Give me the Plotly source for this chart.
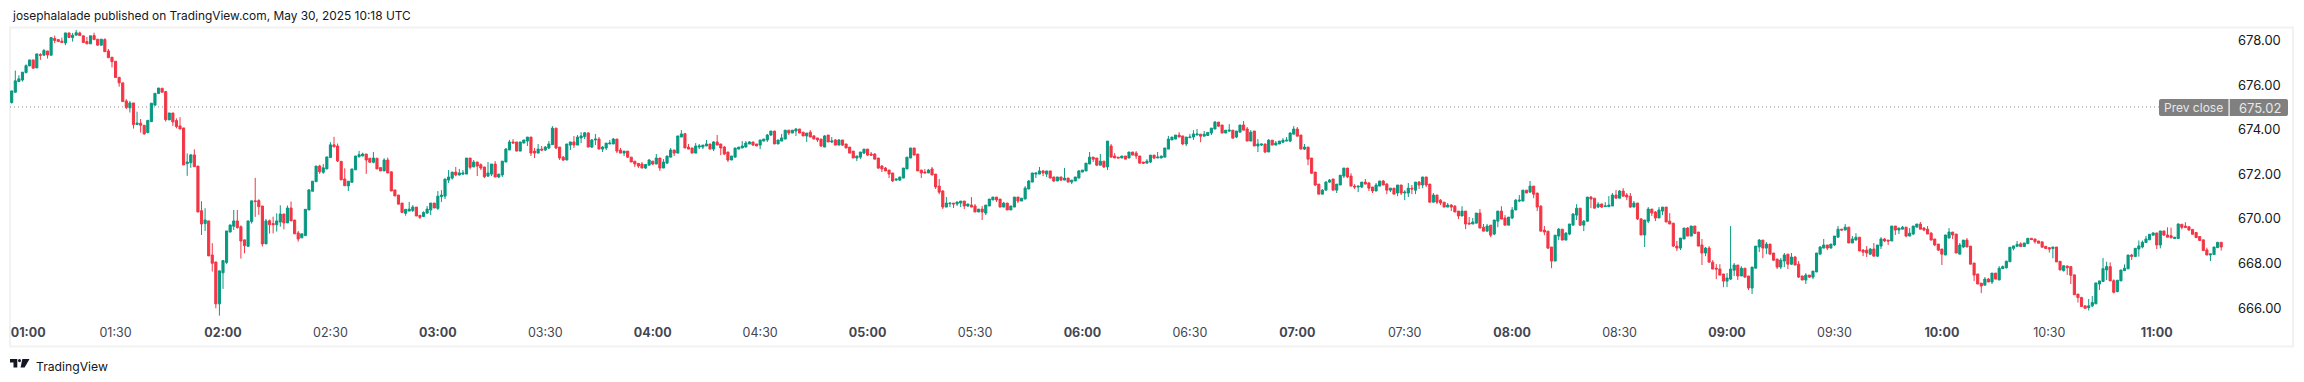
import plotly.graph_objects as go

# One-minute bars, 01:00 to 11:18
opens = [
675.01,675.22,675.68,676.16,676.23,676.56,676.86,677.13,676.77,677.37,
677.34,677.53,677.34,678.09,678.04,677.97,677.89,678.34,678.13,678.24,
678.34,678.21,677.95,677.85,678.22,678.06,677.79,678.04,677.53,677.25,
677.07,676.35,676.10,675.29,674.98,675.20,674.23,674.29,674.20,673.87,
674.36,675.10,675.62,675.86,675.71,674.44,674.75,674.41,674.17,674.08,
672.48,672.52,672.87,672.37,670.37,669.79,669.91,668.38,668.07,666.19,
667.58,668.05,669.41,669.67,669.91,669.65,669.06,668.77,669.88,670.81,
670.82,670.58,668.88,669.92,669.79,669.74,669.86,670.22,669.82,670.49,
669.95,669.37,669.15,669.25,670.40,671.24,671.67,672.37,672.09,672.24,
672.75,673.32,673.27,672.58,671.79,671.48,671.64,672.20,672.79,672.82,
672.91,672.72,672.54,672.72,672.30,672.15,672.64,672.11,671.30,671.07,
670.71,670.25,670.35,670.38,670.53,670.16,670.11,670.26,670.40,670.71,
670.47,671.00,671.02,671.74,671.83,672.10,671.97,672.01,672.01,672.73,
672.33,672.55,672.43,672.33,671.92,672.01,672.46,671.88,671.97,672.55,
673.09,673.45,673.45,673.04,673.40,673.49,673.67,673.04,672.95,673.13,
673.09,673.18,673.33,674.07,673.22,672.77,672.64,673.31,673.45,673.31,
673.63,673.69,673.85,673.22,673.54,673.58,673.13,673.18,673.36,673.36,
673.58,673.09,672.95,673.04,672.77,672.59,672.49,672.46,672.28,672.41,
672.59,672.46,672.73,672.28,672.50,672.77,673.09,672.95,673.67,673.82,
673.22,673.18,672.95,673.22,673.22,673.27,673.36,673.13,673.45,673.36,
673.22,673.00,672.64,672.77,673.13,673.18,673.22,673.36,673.45,673.36,
673.31,673.49,673.54,673.76,673.94,673.36,673.49,673.58,673.98,673.85,
673.94,674.03,673.89,673.72,673.89,673.72,673.63,673.58,673.22,673.76,
673.45,673.54,673.31,673.54,673.36,673.22,673.04,672.73,672.77,672.95,
673.13,672.91,672.91,672.73,672.37,672.28,672.19,672.06,671.74,671.74,
671.83,672.24,672.73,673.18,672.91,672.19,672.10,672.06,672.24,672.01,
671.47,671.25,670.53,670.68,670.71,670.67,670.71,670.80,670.58,670.62,
670.58,670.31,670.44,670.26,670.58,670.85,670.98,670.89,670.53,670.71,
670.40,670.53,670.98,670.80,670.89,671.34,671.65,672.01,672.01,672.15,
672.01,672.15,671.88,671.70,671.88,671.74,671.83,671.65,671.70,671.83,
672.10,672.15,672.46,672.77,672.73,672.41,672.59,672.33,673.27,672.82,
672.77,672.73,672.82,672.73,673.00,672.95,672.82,672.55,672.50,672.55,
672.86,672.73,672.73,672.77,673.13,673.54,673.58,673.76,673.72,673.36,
673.64,673.67,673.76,673.80,673.71,673.74,673.85,674.03,674.34,674.21,
673.85,673.94,673.98,673.67,673.89,674.21,674.03,673.49,673.94,673.27,
673.31,673.36,673.00,673.53,673.31,673.36,673.44,673.49,673.49,673.80,
674.03,673.76,673.13,673.22,672.73,672.10,671.56,671.11,671.29,671.65,
671.79,671.29,671.52,671.92,672.28,671.92,671.47,671.43,671.43,671.65,
671.61,671.43,671.25,671.47,671.70,671.56,671.29,671.38,671.16,671.52,
671.16,671.16,671.38,671.29,671.65,671.52,671.88,671.56,670.75,671.07,
670.84,670.75,670.53,670.62,670.57,670.35,670.13,670.35,669.81,669.77,
669.81,670.26,669.63,669.45,669.72,669.32,669.90,670.35,670.04,669.72,
670.04,670.40,670.80,670.80,671.29,671.20,671.47,671.16,670.57,669.50,
669.45,668.74,668.11,669.23,669.54,669.05,669.32,669.72,670.17,670.48,
669.72,669.90,670.98,670.93,670.53,670.67,670.55,670.55,670.58,671.07,
670.93,671.25,671.07,671.02,670.53,670.71,670.00,669.28,669.90,670.44,
670.31,670.04,670.35,670.53,669.90,669.81,668.78,668.69,669.10,669.59,
669.23,669.68,669.41,668.83,668.47,668.69,668.06,667.79,667.75,667.53,
667.21,667.30,667.70,667.93,667.44,667.79,667.44,666.90,667.79,668.74,
669.05,668.69,668.87,668.47,668.20,667.84,668.11,668.42,667.97,668.29,
667.97,667.44,667.26,667.48,667.39,667.62,668.42,668.69,668.83,668.69,
668.83,669.18,669.54,669.50,669.63,668.92,669.05,669.18,668.60,668.60,
668.42,668.65,668.33,668.78,669.10,669.05,669.01,669.68,669.50,669.54,
669.63,669.23,669.32,669.63,669.77,669.59,669.54,669.36,669.10,668.87,
668.65,668.38,669.14,669.41,669.32,668.42,668.74,669.05,668.78,668.02,
667.53,667.12,667.03,667.30,667.17,667.57,667.26,667.77,667.81,668.08,
668.68,668.77,668.88,668.76,668.89,669.13,669.10,669.01,668.97,668.77,
668.71,668.67,668.74,668.10,667.68,667.89,667.86,667.49,666.63,666.48,
666.10,666.02,666.10,666.19,667.08,667.19,667.71,667.86,667.23,666.74,
667.22,667.68,667.76,668.38,668.31,668.65,668.74,668.94,669.06,669.27,
669.37,668.83,669.46,669.28,669.25,669.12,669.12,669.76,669.68,669.65,
669.53,669.39,669.21,669.06,668.61,668.38,668.40,668.71,668.95]
highs = [
675.23,675.74,676.65,676.44,676.58,676.93,677.13,677.13,677.40,677.43,
677.62,677.53,678.13,678.22,678.04,678.13,678.34,678.34,678.34,678.47,
678.40,678.21,678.16,678.21,678.35,678.06,678.06,678.10,677.62,677.25,
677.07,676.35,676.10,675.37,675.29,675.20,674.81,674.48,674.20,674.42,
675.19,675.63,675.87,675.86,675.71,674.75,674.75,674.51,674.56,674.08,
672.94,672.91,673.12,672.37,670.79,670.48,669.91,668.91,668.07,667.67,
668.13,669.46,669.73,670.40,670.40,669.71,669.06,669.91,670.81,671.84,
670.88,670.58,670.00,669.97,670.10,670.25,670.61,670.22,670.60,670.78,
669.95,669.46,669.33,670.43,671.34,671.69,672.37,672.43,672.46,672.78,
673.44,673.68,673.38,672.58,672.27,671.69,672.24,672.82,673.05,672.97,
672.91,672.72,673.00,672.72,672.30,672.72,672.75,672.11,671.30,671.07,
670.71,670.43,670.76,670.62,670.53,670.16,670.34,670.58,670.71,670.71,
671.25,671.29,671.79,672.19,672.10,672.33,672.24,672.19,672.73,672.73,
672.64,672.55,672.49,672.33,672.55,672.46,672.59,672.01,672.59,673.18,
673.54,673.58,673.45,673.45,673.54,673.67,673.67,673.18,673.36,673.27,
673.27,673.49,674.16,674.07,673.22,672.82,673.36,673.45,673.72,673.76,
673.89,673.89,673.89,673.58,673.81,673.67,673.27,673.40,673.54,673.63,
673.58,673.18,673.04,673.04,672.77,672.59,672.49,672.55,672.44,672.68,
672.59,672.91,672.73,672.68,672.82,673.18,673.09,673.72,673.98,673.86,
673.36,673.18,673.40,673.36,673.31,673.54,673.36,673.49,673.76,673.36,
673.27,673.00,672.82,673.18,673.22,673.49,673.49,673.49,673.45,673.36,
673.54,673.58,673.81,673.76,673.94,673.54,673.81,673.98,673.98,673.98,
674.07,674.03,673.89,673.85,673.98,673.76,673.63,673.58,673.76,673.76,
673.67,673.58,673.58,673.54,673.36,673.22,673.04,672.82,673.00,673.13,
673.13,673.00,672.95,672.73,672.41,672.33,672.19,672.06,671.79,671.88,
672.28,672.77,673.18,673.18,672.91,672.19,672.24,672.24,672.33,672.01,
671.79,671.29,670.98,670.71,670.71,670.76,670.80,670.80,670.67,670.98,
670.67,670.44,670.58,670.62,670.89,670.98,670.98,670.89,670.76,670.71,
670.58,670.98,670.98,670.93,671.47,671.74,672.06,672.06,672.33,672.19,
672.15,672.15,671.88,671.88,671.88,672.28,671.83,671.74,671.88,672.19,
672.19,672.50,673.00,672.77,672.73,672.91,672.59,673.49,673.36,672.95,
672.77,672.82,672.82,673.00,673.00,673.04,672.82,672.55,672.68,672.86,
672.86,673.00,672.82,673.18,673.72,673.67,673.76,673.89,673.72,673.67,
673.81,673.98,674.03,673.80,673.94,673.88,674.07,674.39,674.34,674.21,
673.98,674.25,673.98,673.94,674.21,674.39,674.12,673.98,673.94,673.58,
673.36,673.36,673.58,673.53,673.49,673.49,673.62,673.67,673.89,674.16,
674.12,673.76,673.36,673.22,672.73,672.10,671.56,671.34,671.70,671.79,
671.79,671.56,671.96,672.28,672.28,672.05,671.56,671.47,671.65,671.79,
671.65,671.43,671.61,671.70,671.74,671.61,671.38,671.38,671.52,671.52,
671.29,671.61,671.52,671.65,671.70,671.88,671.88,671.56,671.16,671.07,
670.89,670.75,670.71,670.66,670.62,670.35,670.57,670.35,670.08,670.04,
670.26,670.44,669.77,669.77,669.72,669.95,670.35,670.57,670.17,670.08,
670.53,670.89,671.07,671.29,671.29,671.70,671.47,671.16,670.62,669.68,
669.45,668.74,669.27,669.59,669.54,669.41,669.77,670.26,670.66,670.48,
669.95,670.98,671.02,670.93,670.75,670.67,670.75,671.02,671.16,671.29,
671.29,671.38,671.16,671.16,670.80,670.71,670.04,669.95,670.53,670.44,
670.35,670.53,670.53,670.53,670.26,669.81,669.01,669.14,669.59,669.63,
669.68,669.68,669.41,669.10,668.74,668.78,668.15,667.97,667.97,667.53,
667.57,669.68,668.02,667.93,667.88,667.79,667.44,667.84,668.78,669.10,
669.05,668.96,668.87,668.47,668.20,668.24,668.47,668.42,668.47,668.33,
668.11,667.44,667.57,667.48,667.66,668.47,668.78,669.10,668.83,668.87,
669.23,669.68,669.54,669.77,669.63,669.23,669.36,669.18,668.65,668.78,
668.69,668.92,668.83,669.18,669.14,669.05,669.68,669.68,669.59,669.68,
669.63,669.59,669.68,669.77,669.86,669.63,669.68,669.41,669.10,668.87,
668.65,669.28,669.59,669.41,669.32,668.92,669.05,669.14,668.78,668.02,
667.53,667.12,667.39,667.35,667.57,667.57,667.88,667.91,668.13,668.73,
668.79,669.01,668.95,668.92,669.13,669.13,669.10,669.01,668.97,668.77,
668.71,668.67,668.74,668.10,667.90,667.89,667.86,667.49,666.63,666.48,
666.10,666.41,666.54,667.13,667.22,668.25,668.08,668.05,667.29,667.25,
667.71,667.96,668.38,668.43,668.68,669.03,669.03,669.24,669.31,669.40,
669.37,669.46,669.46,669.62,669.61,669.18,669.80,669.76,669.85,669.65,
669.53,669.39,669.21,669.06,668.71,668.43,668.74,668.95,668.95]
lows = [
675.01,675.17,675.68,676.13,676.16,676.53,676.86,676.73,676.77,677.13,
677.34,677.19,677.34,677.88,677.95,677.91,677.79,678.13,677.95,678.24,
678.22,677.91,677.85,677.85,678.04,677.79,677.79,677.50,677.23,676.79,
676.34,675.93,675.26,674.93,674.77,674.05,674.23,673.87,673.78,673.84,
674.36,675.10,675.62,675.68,674.36,674.44,674.17,674.06,674.03,672.42,
671.93,672.29,672.34,670.31,669.28,669.46,668.34,667.64,665.99,665.66,
666.86,667.98,669.41,669.50,669.56,668.22,668.46,668.77,669.79,670.09,
670.18,668.76,668.88,669.34,669.35,669.43,669.65,669.53,669.82,669.91,
669.33,668.98,669.15,669.25,670.40,671.24,671.67,672.02,672.02,672.24,
672.75,673.23,672.55,671.75,671.49,671.25,671.64,672.20,672.75,672.82,
672.02,672.54,672.49,672.24,672.15,672.15,672.06,671.25,671.03,670.66,
670.26,670.14,670.35,670.31,670.13,669.99,670.08,670.23,670.17,670.49,
670.40,670.76,670.89,671.61,671.76,671.91,671.95,671.97,672.01,672.22,
672.33,671.92,672.19,671.83,671.88,671.92,671.88,671.83,671.88,672.55,
673.09,673.40,673.04,673.04,673.40,673.27,672.82,672.73,672.95,673.04,
673.04,673.13,673.33,673.13,672.64,672.59,672.64,673.09,673.18,673.31,
673.40,673.58,673.22,673.18,673.31,673.13,673.00,673.09,673.36,673.36,
672.95,672.95,672.82,672.73,672.55,672.33,672.28,672.28,672.24,672.41,
672.41,672.46,672.15,672.28,672.50,672.77,672.82,672.95,673.67,673.18,
673.13,672.95,672.95,673.13,673.13,673.27,673.13,673.04,673.31,672.86,
672.86,672.55,672.64,672.77,673.13,673.18,673.22,673.36,673.27,673.27,
673.13,673.49,673.45,673.72,673.36,673.36,673.49,673.58,673.76,673.85,
673.72,673.85,673.72,673.45,673.67,673.58,673.45,673.22,673.22,673.45,
673.40,673.31,673.31,673.27,673.18,672.95,672.73,672.59,672.68,672.91,
672.82,672.82,672.68,672.24,672.10,672.15,671.83,671.65,671.70,671.70,
671.83,672.24,672.73,672.86,672.15,671.83,672.06,672.06,671.97,671.34,
671.11,670.44,670.53,670.53,670.49,670.58,670.53,670.44,670.53,670.53,
670.31,670.31,669.95,670.17,670.58,670.85,670.76,670.53,670.53,670.40,
670.40,670.53,670.71,670.80,670.89,671.34,671.65,671.83,672.01,671.92,
671.88,671.83,671.65,671.70,671.70,671.74,671.65,671.56,671.70,671.83,
672.10,672.15,672.46,672.55,672.37,672.41,672.28,672.19,672.77,672.73,
672.73,672.73,672.68,672.73,672.86,672.68,672.50,672.46,672.50,672.50,
672.68,672.73,672.73,672.77,673.13,673.54,673.58,673.67,673.31,673.27,
673.64,673.54,673.76,673.44,673.71,673.74,673.76,674.03,674.12,673.85,
673.85,673.89,673.62,673.62,673.89,673.98,673.49,673.49,673.27,673.00,
673.27,672.95,673.00,673.31,673.31,673.36,673.40,673.49,673.44,673.80,
673.71,673.13,673.09,672.41,672.01,671.47,671.11,671.11,671.29,671.61,
671.29,671.16,671.52,671.83,671.83,671.47,671.34,671.20,671.38,671.56,
671.25,671.16,671.25,671.47,671.52,671.11,671.20,671.11,671.02,671.07,
670.84,670.98,671.11,671.11,671.34,671.38,671.43,670.75,670.75,670.66,
670.62,670.53,670.53,670.35,670.31,669.99,670.13,669.54,669.77,669.77,
669.81,669.59,669.45,669.45,669.18,669.27,669.63,669.99,669.72,669.72,
669.99,670.40,670.75,670.80,671.16,671.20,670.93,670.35,669.45,669.27,
668.65,667.79,668.11,669.05,669.05,669.05,669.27,669.72,669.95,669.68,
669.45,669.86,670.48,670.48,670.48,670.49,670.55,670.55,670.58,670.93,
670.93,671.02,670.84,670.49,670.53,669.95,669.28,668.74,669.81,670.13,
669.90,670.04,670.17,669.86,669.77,668.74,668.56,668.60,669.10,669.23,
669.23,669.32,668.78,667.93,668.33,668.06,667.75,667.30,667.48,666.94,
666.94,667.26,667.44,667.26,667.44,667.35,666.81,666.63,667.79,668.51,
668.24,668.42,668.42,668.11,667.75,667.75,667.84,667.75,667.93,667.93,
667.35,667.26,667.08,667.35,667.30,667.62,668.42,668.69,668.60,668.69,
668.78,669.18,669.50,669.50,668.92,668.92,669.05,668.56,668.33,668.29,
668.38,668.33,668.29,668.65,668.96,668.83,669.01,669.28,669.32,669.54,
669.18,669.23,669.28,669.63,669.54,669.45,669.32,669.05,668.78,668.56,
667.93,668.38,669.14,669.10,668.47,668.42,668.69,668.74,667.97,667.21,
667.08,666.67,667.03,667.17,667.08,667.30,667.26,667.77,667.77,668.08,
668.59,668.77,668.76,668.76,668.89,669.07,668.89,668.91,668.73,668.67,
668.49,668.23,668.07,667.71,667.64,667.49,667.08,666.60,666.25,666.07,
665.99,665.89,666.05,666.19,666.81,667.19,667.26,667.22,666.66,666.71,
667.22,667.68,667.76,668.16,668.31,668.31,668.68,668.94,669.06,669.27,
668.65,668.68,669.27,669.18,669.12,669.12,669.12,669.53,669.61,669.47,
669.31,669.16,669.03,668.58,668.38,668.11,668.40,668.71,668.58]
closes = [
675.23,675.74,676.19,676.28,676.58,676.87,677.13,676.76,677.40,677.34,
677.55,677.35,678.13,678.00,677.95,677.91,678.34,678.13,678.24,678.35,
678.22,677.91,677.85,678.21,678.04,677.79,678.06,677.50,677.23,677.05,
676.34,676.10,675.26,674.99,675.20,674.23,674.30,674.20,673.81,674.42,
675.19,675.63,675.87,675.68,674.45,674.75,674.35,674.14,674.03,672.42,
672.55,672.87,672.34,670.31,669.77,669.95,668.34,668.01,666.19,667.67,
668.13,669.46,669.73,669.91,669.61,669.01,668.80,669.91,670.81,670.78,
670.55,668.88,669.91,669.74,669.74,669.91,670.22,669.82,670.49,669.91,
669.33,669.10,669.33,670.43,671.30,671.69,672.37,672.11,672.29,672.78,
673.32,673.23,672.60,671.75,671.49,671.69,672.24,672.82,672.88,672.91,
672.64,672.54,672.73,672.24,672.15,672.64,672.06,671.25,671.03,670.66,
670.29,670.43,670.44,670.53,670.13,670.07,670.29,670.44,670.71,670.49,
671.02,671.07,671.79,671.88,672.10,671.97,672.06,672.06,672.73,672.31,
672.55,672.37,672.28,671.89,672.06,672.46,671.88,672.01,672.59,673.13,
673.45,673.40,673.04,673.45,673.54,673.67,672.95,672.95,673.13,673.09,
673.22,673.36,674.07,673.18,672.73,672.64,673.36,673.45,673.31,673.67,
673.72,673.86,673.22,673.54,673.58,673.13,673.22,673.40,673.40,673.58,
673.04,672.95,673.04,672.77,672.55,672.46,672.37,672.28,672.44,672.64,
672.46,672.73,672.28,672.55,672.82,673.09,672.95,673.72,673.81,673.18,
673.13,672.95,673.27,673.27,673.31,673.36,673.13,673.45,673.31,673.18,
672.91,672.64,672.82,673.18,673.22,673.27,673.40,673.45,673.31,673.27,
673.54,673.58,673.76,673.94,673.36,673.54,673.63,673.98,673.85,673.98,
674.03,673.85,673.72,673.85,673.67,673.58,673.54,673.27,673.72,673.45,
673.49,673.31,673.54,673.31,673.18,672.95,672.73,672.82,673.00,673.13,
672.86,672.86,672.68,672.28,672.24,672.15,672.01,671.70,671.79,671.88,
672.28,672.77,673.18,672.86,672.15,672.06,672.06,672.19,671.97,671.43,
671.20,670.53,670.71,670.71,670.67,670.76,670.80,670.58,670.67,670.53,
670.31,670.44,670.31,670.62,670.89,670.98,670.85,670.53,670.71,670.40,
670.58,670.98,670.80,670.93,671.38,671.70,672.06,672.06,672.15,672.06,
672.15,671.83,671.70,671.88,671.74,671.83,671.65,671.74,671.88,672.15,
672.19,672.50,672.77,672.68,672.41,672.59,672.33,673.49,672.77,672.73,
672.73,672.82,672.68,673.00,672.86,672.82,672.50,672.50,672.59,672.86,
672.73,672.77,672.82,673.18,673.58,673.67,673.76,673.67,673.36,673.67,
673.67,673.81,673.81,673.71,673.80,673.88,674.07,674.34,674.16,673.85,
673.98,673.98,673.62,673.94,674.21,673.98,673.49,673.89,673.27,673.36,
673.36,673.00,673.53,673.31,673.40,673.49,673.53,673.53,673.85,674.03,
673.71,673.13,673.22,672.68,672.05,671.52,671.11,671.29,671.65,671.74,
671.29,671.56,671.96,672.28,671.88,671.47,671.43,671.47,671.65,671.56,
671.38,671.25,671.52,671.70,671.52,671.29,671.38,671.11,671.52,671.16,
671.20,671.38,671.34,671.65,671.52,671.88,671.52,670.75,671.07,670.75,
670.71,670.53,670.62,670.53,670.31,670.13,670.35,669.77,669.77,669.86,
670.26,669.59,669.45,669.68,669.27,669.95,670.35,669.99,669.72,670.08,
670.40,670.84,670.84,671.29,671.16,671.47,671.11,670.53,669.45,669.41,
668.69,668.11,669.27,669.54,669.05,669.36,669.77,670.22,670.48,669.72,
669.90,670.98,670.89,670.48,670.66,670.53,670.58,670.62,671.07,670.93,
671.25,671.02,670.98,670.53,670.71,670.00,669.28,669.95,670.44,670.26,
670.04,670.40,670.53,669.86,669.77,668.78,668.69,669.14,669.59,669.23,
669.68,669.35,668.78,668.47,668.69,668.06,667.75,667.75,667.48,667.21,
667.35,667.75,667.93,667.44,667.79,667.39,666.90,667.84,668.78,669.05,
668.69,668.87,668.42,668.15,667.84,668.15,668.38,667.97,668.29,667.93,
667.39,667.26,667.48,667.39,667.66,668.47,668.74,668.83,668.69,668.87,
669.23,669.54,669.50,669.63,668.92,669.10,669.18,668.56,668.51,668.47,
668.65,668.33,668.83,669.10,669.01,669.01,669.68,669.50,669.59,669.63,
669.23,669.36,669.68,669.77,669.54,669.50,669.32,669.05,668.83,668.60,
668.42,669.28,669.41,669.28,668.47,668.83,669.05,668.74,667.97,667.48,
667.08,666.99,667.30,667.17,667.57,667.30,667.79,667.86,668.10,668.73,
668.79,668.86,668.76,668.92,669.13,669.07,668.98,668.91,668.73,668.67,
668.65,668.74,668.07,667.71,667.90,667.81,667.47,666.60,666.47,666.07,
665.99,666.10,666.25,667.13,667.22,667.77,667.86,667.22,666.71,667.25,
667.71,667.79,668.38,668.32,668.68,668.79,668.95,669.10,669.31,669.37,
668.83,669.46,669.27,669.18,669.16,669.18,669.77,669.62,669.61,669.50,
669.31,669.16,669.03,668.58,668.38,668.43,668.74,668.95,668.74]
n = min(len(opens), len(highs), len(lows), len(closes))
bars = list(range(n))

prev_close = 675.02
y_ticks = [666, 668, 670, 672, 674, 676, 678]
time_labels = ["01:00","01:30","02:00","02:30","03:00","03:30","04:00","04:30","05:00","05:30","06:00","06:30","07:00","07:30","08:00","08:30","09:00","09:30","10:00","10:30","11:00"]
time_positions = [5.6] + [30 * k for k in range(1, 21)]
title_text = "josephalalade published on TradingView.com, May 30, 2025 10:18 UTC"

W, H = 2304, 382
L, R, T, B = 10, 2237, 28, 323
FONT = "Inter"
def xp(px): return (px - L) / (R - L)
def yp(py): return 1 - (py - T) / (B - T)

fig = go.Figure(go.Candlestick(
    x=bars, open=opens[:n], high=highs[:n], low=lows[:n], close=closes[:n],
    increasing=dict(line=dict(color="#089981", width=1), fillcolor="#089981"),
    decreasing=dict(line=dict(color="#F23645", width=1), fillcolor="#F23645"),
    whiskerwidth=0, hoverinfo="skip", showlegend=False))

def rounded(x0, y0, x1, y1, rl, rr):
    return (f"M{xp(x0+rl)},{yp(y0)} L{xp(x1-rr)},{yp(y0)} Q{xp(x1)},{yp(y0)} {xp(x1)},{yp(y0+rr)} "
            f"L{xp(x1)},{yp(y1-rr)} Q{xp(x1)},{yp(y1)} {xp(x1-rr)},{yp(y1)} L{xp(x0+rl)},{yp(y1)} "
            f"Q{xp(x0)},{yp(y1)} {xp(x0)},{yp(y1-rl)} L{xp(x0)},{yp(y0+rl)} Q{xp(x0)},{yp(y0)} {xp(x0+rl)},{yp(y0)} Z")

def poly(points):
    return "M" + " L".join(f"{xp(a)},{yp(b)}" for a, b in points) + " Z"

logo = dict(xref="paper", yref="paper", type="path", fillcolor="#131722", line=dict(width=0))
shapes = [
    dict(type="rect", xref="paper", yref="paper", x0=xp(10), x1=xp(2293), y0=yp(27.5), y1=yp(346.5),
         line=dict(color="#F2F2F2", width=2), layer="below"),
    dict(type="line", xref="paper", yref="y", x0=0, x1=xp(2159), y0=prev_close, y1=prev_close,
         line=dict(color="#8A8A8A", width=1, dash="1px,3px"), layer="below"),
    dict(type="path", xref="paper", yref="paper", path=rounded(2159, 99, 2228.5, 116, 2, 0), fillcolor="#808080", line=dict(width=0)),
    dict(type="path", xref="paper", yref="paper", path=rounded(2229.7, 99, 2288, 116, 0, 2), fillcolor="#808080", line=dict(width=0)),
    dict(logo, path=poly([(10, 359), (17.3, 359), (17.3, 367.5), (13.5, 367.5), (13.5, 362.6), (10, 362.6)])),
    dict(type="circle", xref="paper", yref="paper", x0=xp(18), x1=xp(21), y0=yp(359), y1=yp(362.2), fillcolor="#131722", line=dict(width=0)),
    dict(logo, path=poly([(22.3, 359), (29.5, 359), (24.6, 367.5), (20.6, 367.5)])),
]
annotations = [
    dict(text=title_text, xref="paper", yref="paper", x=xp(10), y=yp(16), xanchor="left", yanchor="middle",
         showarrow=False, font=dict(family=FONT, size=11.9, color="#131722")),
    dict(text="Prev close", xref="paper", yref="paper", x=xp(2193.5), y=yp(107.5), xanchor="center", yanchor="middle",
         showarrow=False, font=dict(family=FONT, size=12, color="#E8E8E8")),
    dict(text=f"{prev_close:.2f}", xref="paper", yref="paper", x=xp(2260), y=yp(107.5), xanchor="center", yanchor="middle",
         showarrow=False, font=dict(family=FONT, size=13, color="#E8E8E8")),
    dict(text="TradingView", xref="paper", yref="paper", x=xp(34), y=yp(366), xanchor="left", yanchor="middle",
         showarrow=False, font=dict(family=FONT, size=12.2, color="#131722")),
]
fig.update_layout(
    width=W, height=H, margin=dict(l=L, r=W - R, t=T, b=H - B, autoexpand=False),
    paper_bgcolor="white", plot_bgcolor="white", boxgap=0.15,
    shapes=shapes, annotations=annotations, hovermode=False,
    xaxis=dict(range=[0.52, 60 + (R - 223) / 3.581], rangeslider=dict(visible=False), showgrid=False, zeroline=False,
               showline=False, ticks="", tickmode="array", tickvals=time_positions,
               ticktext=[f"<b>{t}</b>" if t.endswith(":00") else t for t in time_labels],
               tickfont=dict(family=FONT, size=12.5, color="#434651"), tickangle=0),
    yaxis=dict(range=[678 - (B - 40.5) / 22.3, 678 + (40.5 - T) / 22.3], side="right", showgrid=False, zeroline=False,
               showline=False, ticks="", tickmode="array", tickvals=y_ticks,
               ticktext=[f"{v:.2f}" for v in y_ticks], tickfont=dict(family=FONT, size=13, color="#131722")),
)
fig.write_html("out.html", config={"displayModeBar": False}, post_script="document.body.style.margin='0';")
